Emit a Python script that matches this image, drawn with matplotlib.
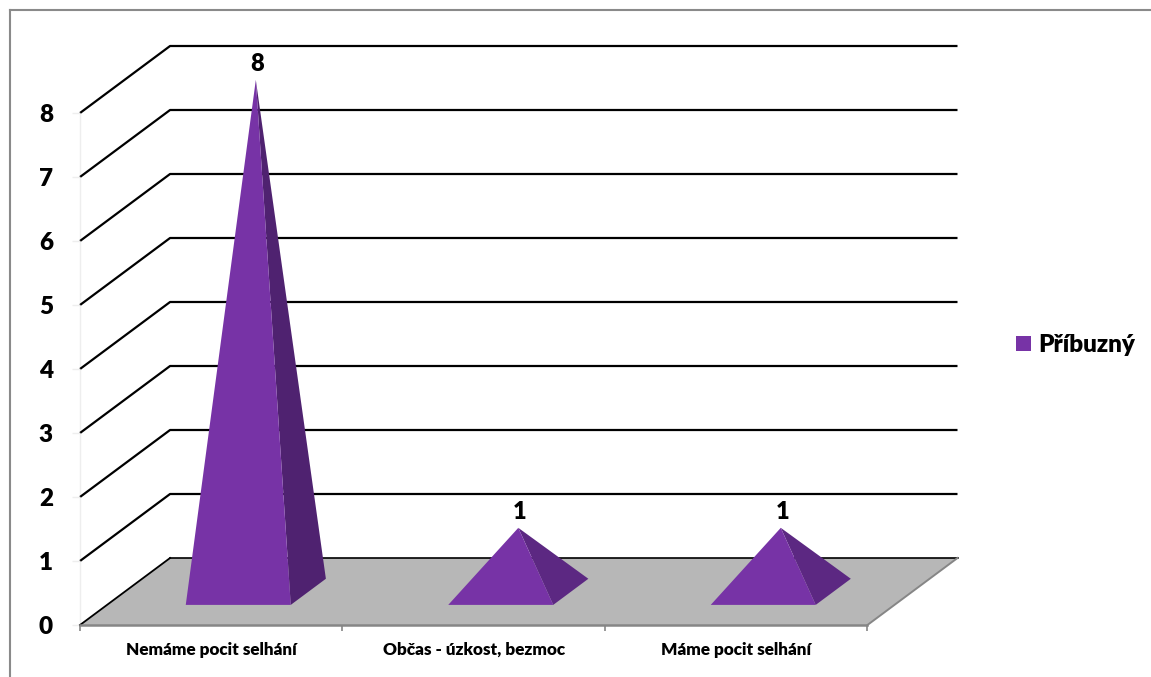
import matplotlib
matplotlib.use("Agg")
import matplotlib.pyplot as plt
from matplotlib.patches import Polygon, Rectangle

plt.rcParams["font.family"] = ["Lato", "DejaVu Sans"]

categories = ["Nemáme pocit selhání", "Občas - úzkost, bezmoc", "Máme pocit selhání"]
values = [8, 1, 1]
series_name = "Příbuzný"
value_ticks = [0, 1, 2, 3, 4, 5, 6, 7, 8]

W, H = 1151, 677
FRONT = "#7733a6"
SIDE_TALL = "#4f2270"
SIDE_LOW = "#5c2882"
FLOOR = "#b7b7b7"
EDGE = "#868686"

# depth of the 3D box, in category and value units
DEPTH_X = 90 / 262.3
DEPTH_Y = 67 / 64.0


def project(x, y, d):
    # d runs 0 (front) to 1 (back wall)
    return x + d * DEPTH_X, y + d * DEPTH_Y


fig = plt.figure(figsize=(W / 100, H / 100), dpi=100)
ax = fig.add_axes([80 / W, (H - 625) / H, 877.5 / W, 579 / H])
ax.set_xlim(0, 3 + DEPTH_X)
ax.set_ylim(0, 8 + DEPTH_Y)
for s in ax.spines.values():
    s.set_visible(False)

# walls and gridlines
for v in value_ticks[1:]:
    pts = [project(0, v, 0), project(0, v, 1), project(3, v, 1)]
    ax.plot(*zip(*pts), color="black", lw=1.6, solid_capstyle="butt", clip_on=False, zorder=1)

# floor
corners = [project(0, 0, 0), project(3, 0, 0), project(3, 0, 1), project(0, 0, 1)]
ax.add_patch(Polygon(corners, closed=True, fc=FLOOR, ec="none", zorder=2, clip_on=False))
ax.plot(*zip(corners[3], corners[0]), color="black", lw=1.3, zorder=3, clip_on=False)
ax.plot(*zip(corners[2], corners[3]), color="black", lw=1.2, zorder=3, clip_on=False)
ax.plot(*zip(corners[0], corners[1]), color=EDGE, lw=1.8, zorder=3, clip_on=False)
ax.plot(*zip(corners[1], corners[2]), color=EDGE, lw=1.4, zorder=3, clip_on=False)

# pyramids
half = 0.2
d0, d1 = 0.30, 0.69
dm = (d0 + d1) / 2
for i, v in enumerate(values):
    xc = i + 0.5
    apex = project(xc, v, dm)
    fl = project(xc - half, 0, d0)
    fr = project(xc + half, 0, d0)
    br = project(xc + half, 0, d1)
    side = SIDE_TALL if v > 1 else SIDE_LOW
    ax.add_patch(Polygon([apex, fr, br], closed=True, fc=side, ec="none", zorder=4, clip_on=False))
    ax.add_patch(Polygon([apex, fl, fr], closed=True, fc=FRONT, ec="none", zorder=5, clip_on=False))
    ax.annotate(str(v), apex, xytext=(1, 3.5), textcoords="offset points", ha="center", va="bottom",
                fontsize=17, fontweight="heavy", color="black", zorder=6)

# axes ticks
ax.set_yticks(value_ticks)
ax.set_yticklabels([str(v) for v in value_ticks], fontsize=17.5, fontweight="heavy")
ax.tick_params(axis="y", length=5.5, width=1, color="#eeeeee", pad=14)
ax.set_xticks([0, 1, 2, 3])
ax.set_xticklabels([])
ax.set_xticks([0.5, 1.5, 2.5], minor=True)
ax.set_xticklabels(categories, minor=True, fontsize=12.3, fontweight="heavy")
ax.tick_params(axis="x", which="major", length=4, width=1.2, color=EDGE)
ax.tick_params(axis="x", which="minor", length=0, pad=12)
ax.plot([0, 0], [0, 8], color="#eeeeee", lw=1, zorder=0, clip_on=False)

# legend
handle = Rectangle((0, 0), 1, 1, fc=FRONT, ec="none")
fig.legend([handle], [series_name], loc="center left", bbox_to_anchor=(994.5 / W, 1 - 345 / H),
           frameon=False, handlelength=0.62, handleheight=0.62, handletextpad=0.3,
           prop={"size": 17.5, "weight": "heavy"})

# chart frame: top and left edges
fig.add_artist(plt.Line2D([9.5 / W, 9.5 / W], [0, 1 - 10 / H], color="#8a8a8a", lw=1.5))
fig.add_artist(plt.Line2D([9.5 / W, 1], [1 - 10 / H, 1 - 10 / H], color="#8a8a8a", lw=1.5))

fig.savefig("out.png", dpi=100, facecolor="white")
